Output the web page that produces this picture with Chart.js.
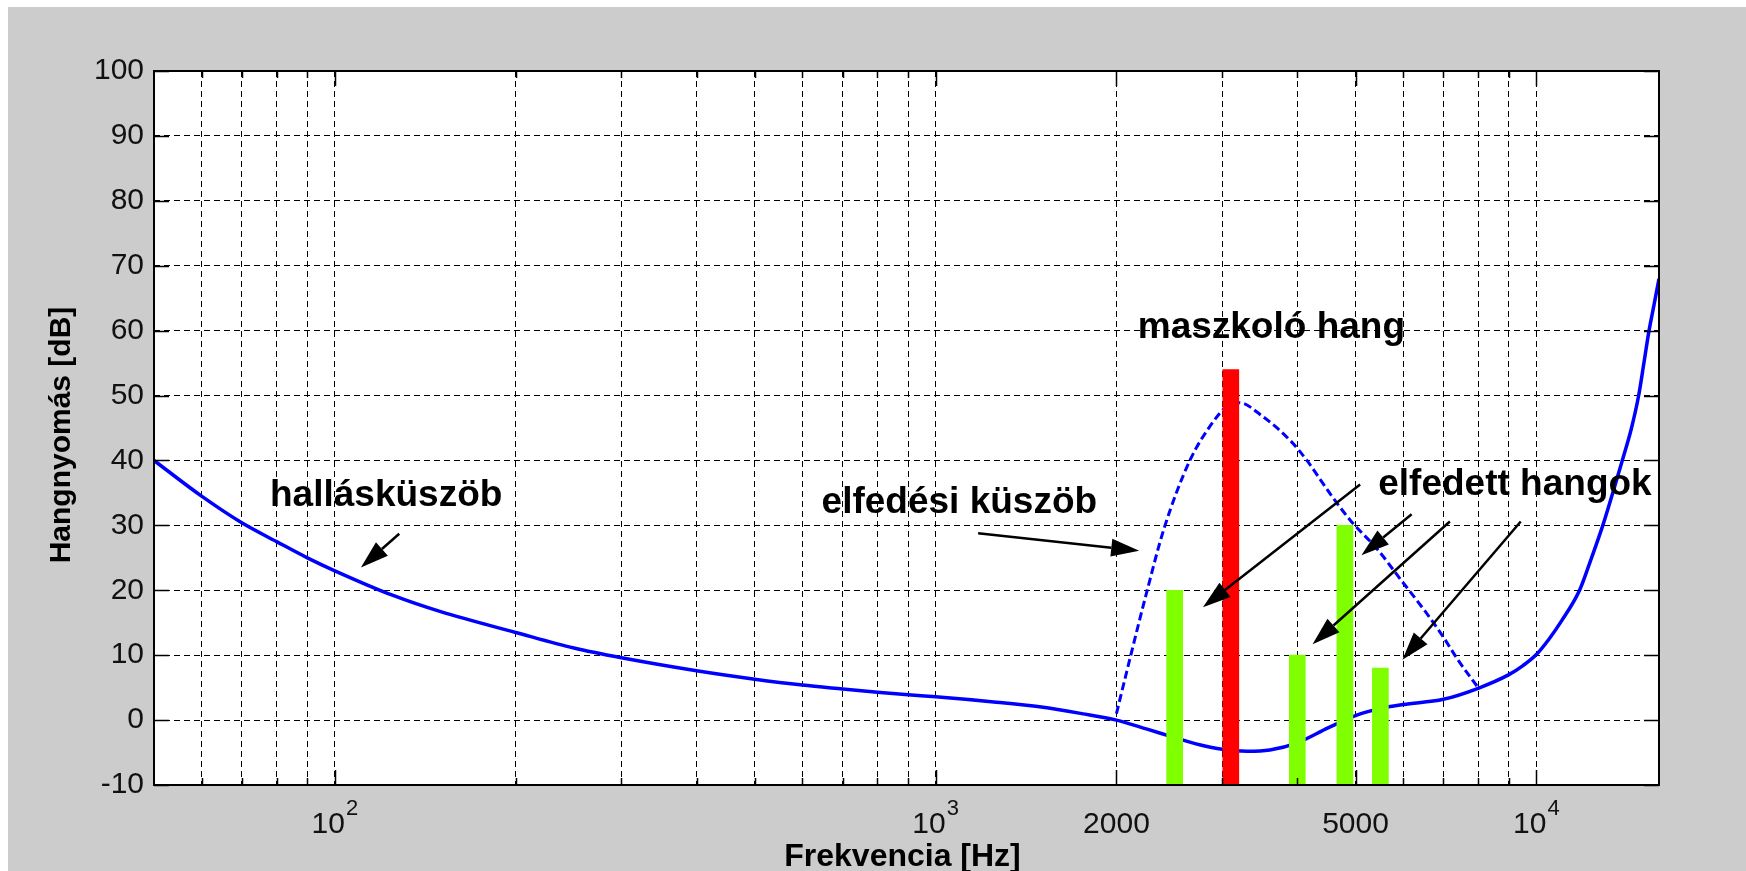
<!DOCTYPE html>
<html>
<head>
<meta charset="utf-8">
<title>Elfedés</title>
<script src="https://cdn.jsdelivr.net/npm/chart.js@4.4.1/dist/chart.umd.min.js"></script>
<style>
  html, body { margin: 0; padding: 0; background: #fff; }
  #doboz { width: 1746px; height: 871px; }
</style>
</head>
<body>
<div id="doboz"><canvas id="grafikon" width="1746" height="871"></canvas></div>
<script>
// hallásküszöb (folytonos kék vonal)
const kuszobFrek = [50, 60, 70, 80, 90, 100, 125, 150, 200, 250, 300, 400, 500, 600, 700, 800, 900, 1000,
    1250, 1500, 1750, 2000, 2250, 2500, 2750, 3000, 3300, 3600, 4000, 4500, 5000, 5500, 6000, 7000,
    8000, 9000, 9500, 10000, 10500, 11000, 11800, 12300, 12900, 13400, 13900, 14400, 14800, 15100, 15400, 15700, 16000];
const kuszobDb = [40.0, 34.5, 30.4, 27.5, 25.0, 23.0, 19.2, 16.7, 13.5, 11.1, 9.6, 7.6, 6.3, 5.4, 4.8, 4.3, 3.9, 3.6,
    2.8, 2.0, 1.0, 0.0, -1.4, -2.7, -3.8, -4.5, -4.8, -4.6, -3.5, -1.2, 0.7, 1.8, 2.4, 3.2,
    4.9, 7.0, 8.4, 10.1, 12.5, 15.2, 20.0, 24.5, 30.0, 35.0, 40.0, 45.0, 50.0, 55.0, 60.0, 64.0, 68.0];

// elfedési küszöb (szaggatott kék vonal)
const elfedesFrek = [2000, 2100, 2250, 2400, 2650, 2900, 3050, 3200, 3500, 3900, 4150, 4550, 4900, 5450, 5950, 6500, 7000, 7400, 8000];
const elfedesDb = [1, 9, 20, 29.5, 40, 46, 48.3, 48.9, 46.8, 43, 40, 34.7, 30.8, 26.2, 21.6, 17, 12.8, 9.3, 5];

// maszkoló hang (piros) és elfedett hangok (zöld)
const maszkoloFrek = [3100];
const maszkoloDb = [54];
const elfedettFrek = [2500, 4000, 4800, 5500];
const elfedettDb = [20, 10, 30, 8];

// tengelyek
const xMin = 50, xMax = 16000;
const yMin = -10, yMax = 100, yLepes = 10;
const racsFrek = [60, 70, 80, 90, 100, 200, 300, 400, 500, 600, 700, 800, 900, 1000,
    2000, 3000, 4000, 5000, 6000, 7000, 8000, 9000, 10000];
const cimkeFrek = [100, 1000, 2000, 5000, 10000];
const cimkeAlap = ['10', '10', '2000', '5000', '10'];
const cimkeKitevo = ['2', '3', '', '', '4'];
const xCim = 'Frekvencia [Hz]';
const yCim = 'Hangnyomás [dB]';

// feliratok és nyilak (frekvencia, dB)
const feliratSzoveg = ['hallásküszöb', 'elfedési küszöb', 'maszkoló hang', 'elfedett hangok'];
const feliratFrek = [78, 646, 2170, 5455];
const feliratDb = [33.0, 31.9, 58.8, 34.7];
const nyilKezdFrek = [128, 1177, 5089, 6200, 7179, 9419];
const nyilKezdDb = [28.7, 28.8, 36.3, 31.7, 30.6, 30.6];
const nyilVegFrek = [110.5, 2182, 2786, 5115, 4241, 5985];
const nyilVegDb = [23.5, 26.1, 17.4, 25.4, 11.7, 9.3];

const betu = '"Liberation Sans", Arial, Helvetica, sans-serif';
Chart.defaults.font.family = betu;

function pontok(frek, db) {
    return frek.map((f, i) => ({ x: f, y: db[i] }));
}

const hatter = {
    id: 'hatter',
    beforeDraw(chart) {
        const { ctx, chartArea: a } = chart;
        ctx.save();
        ctx.fillStyle = '#ffffff';
        ctx.fillRect(0, 0, chart.width, chart.height);
        ctx.fillStyle = '#cccccc';
        ctx.fillRect(8, 7, chart.width - 8, chart.height - 7);
        ctx.fillStyle = '#ffffff';
        ctx.fillRect(a.left, a.top, a.right - a.left, a.bottom - a.top);
        ctx.restore();
    }
};

const keret = {
    id: 'keret',
    afterDatasetsDraw(chart) {
        const { ctx, chartArea: a, scales: { x, y } } = chart;
        ctx.save();
        ctx.strokeStyle = '#000';
        ctx.lineWidth = 1.5;
        ctx.beginPath();
        for (let v = yMin; v <= yMax; v += yLepes) {
            const py = Math.round(y.getPixelForValue(v)) + 0.5;
            ctx.moveTo(a.left, py);
            ctx.lineTo(a.left + 15, py);
            ctx.moveTo(a.right, py);
            ctx.lineTo(a.right - 15, py);
        }
        racsFrek.forEach(f => {
            const px = Math.round(x.getPixelForValue(f)) + 0.5;
            const h = cimkeFrek.includes(f) ? 15 : 7;
            ctx.moveTo(px, a.bottom);
            ctx.lineTo(px, a.bottom - h);
            ctx.moveTo(px, a.top);
            ctx.lineTo(px, a.top + h);
        });
        ctx.stroke();
        ctx.lineWidth = 2;
        ctx.strokeRect(a.left, a.top, a.right - a.left, a.bottom - a.top);

        // x tengely feliratai, hatványkitevővel
        ctx.fillStyle = '#111';
        ctx.textBaseline = 'alphabetic';
        ctx.textAlign = 'left';
        cimkeFrek.forEach((f, i) => {
            const px = x.getPixelForValue(f);
            ctx.font = '30px ' + betu;
            const w1 = ctx.measureText(cimkeAlap[i]).width;
            ctx.font = '22px ' + betu;
            const w2 = cimkeKitevo[i] ? ctx.measureText(cimkeKitevo[i]).width + 1 : 0;
            const kezd = px - (w1 + w2) / 2;
            ctx.font = '30px ' + betu;
            ctx.fillText(cimkeAlap[i], kezd, a.bottom + 48);
            if (cimkeKitevo[i]) {
                ctx.font = '22px ' + betu;
                ctx.fillText(cimkeKitevo[i], kezd + w1 + 1, a.bottom + 30);
            }
        });

        // tengelycímek
        ctx.fillStyle = '#000';
        ctx.textAlign = 'center';
        ctx.textBaseline = 'middle';
        ctx.font = 'bold 32px ' + betu;
        ctx.fillText(xCim, (a.left + a.right) / 2 - 4, 857);
        ctx.translate(62, (a.top + a.bottom) / 2 + 7);
        ctx.rotate(-Math.PI / 2);
        ctx.font = 'bold 30px ' + betu;
        ctx.fillText(yCim, 0, 0);
        ctx.restore();
    }
};

const jelolesek = {
    id: 'jelolesek',
    afterDraw(chart) {
        const { ctx, scales: { x, y } } = chart;
        ctx.save();
        ctx.fillStyle = '#000';
        ctx.strokeStyle = '#000';
        ctx.font = 'bold 37px ' + betu;
        ctx.textAlign = 'left';
        ctx.textBaseline = 'alphabetic';
        feliratSzoveg.forEach((t, i) => {
            ctx.fillText(t, x.getPixelForValue(feliratFrek[i]), y.getPixelForValue(feliratDb[i]));
        });

        ctx.lineWidth = 2.5;
        for (let i = 0; i < nyilKezdFrek.length; i++) {
            const x1 = x.getPixelForValue(nyilKezdFrek[i]);
            const y1 = y.getPixelForValue(nyilKezdDb[i]);
            const x2 = x.getPixelForValue(nyilVegFrek[i]);
            const y2 = y.getPixelForValue(nyilVegDb[i]);
            const szog = Math.atan2(y2 - y1, x2 - x1);
            const hossz = 28, fel = 9;
            const bx = x2 - Math.cos(szog) * hossz;
            const by = y2 - Math.sin(szog) * hossz;
            ctx.beginPath();
            ctx.moveTo(x1, y1);
            ctx.lineTo(bx, by);
            ctx.stroke();
            ctx.beginPath();
            ctx.moveTo(x2, y2);
            ctx.lineTo(bx - Math.sin(szog) * fel, by + Math.cos(szog) * fel);
            ctx.lineTo(bx + Math.sin(szog) * fel, by - Math.cos(szog) * fel);
            ctx.closePath();
            ctx.fill();
        }
        ctx.restore();
    }
};

const ctx = document.getElementById('grafikon').getContext('2d');
const grafikon = new Chart(ctx, {
    type: 'line',
    data: {
        datasets: [
            {
                type: 'bar',
                label: 'maszkoló hang',
                data: pontok(maszkoloFrek, maszkoloDb),
                backgroundColor: '#ff0000',
                barThickness: 16,
                grouped: false,
                base: -10,
                borderWidth: 0,
                order: 1
            },
            {
                type: 'bar',
                label: 'elfedett hangok',
                data: pontok(elfedettFrek, elfedettDb),
                backgroundColor: '#80ff00',
                barThickness: 16,
                grouped: false,
                base: -10,
                borderWidth: 0,
                order: 1
            },
            {
                label: 'hallásküszöb',
                data: pontok(kuszobFrek, kuszobDb),
                borderColor: '#0000ff',
                borderWidth: 3.5,
                pointRadius: 0,
                fill: false,
                cubicInterpolationMode: 'monotone',
                order: 2
            },
            {
                label: 'elfedési küszöb',
                data: pontok(elfedesFrek, elfedesDb),
                borderColor: '#0000ff',
                borderWidth: 3,
                borderDash: [8, 4],
                pointRadius: 0,
                fill: false,
                cubicInterpolationMode: 'monotone',
                order: 2
            }
        ]
    },
    options: {
        responsive: false,
        animation: false,
        devicePixelRatio: 1,
        events: [],
        layout: { padding: { top: 71, right: 87, bottom: 0, left: 0 } },
        plugins: {
            legend: { display: false },
            tooltip: { enabled: false }
        },
        scales: {
            x: {
                type: 'logarithmic',
                min: xMin,
                max: xMax,
                offset: false,
                afterBuildTicks: (scale) => {
                    scale.ticks = racsFrek.map(v => ({ value: v }));
                },
                afterFit: (scale) => { scale.height = 86; },
                ticks: { display: false, autoSkip: false },
                grid: { color: '#000', lineWidth: 1, drawTicks: false, offset: false },
                border: { display: false, dash: [6, 4] }
            },
            y: {
                type: 'linear',
                min: yMin,
                max: yMax,
                afterFit: (scale) => { scale.width = 154; },
                ticks: { stepSize: yLepes, color: '#111', font: { size: 30 }, padding: 10, autoSkip: false },
                grid: { color: '#000', lineWidth: 1, drawTicks: false },
                border: { display: false, dash: [6, 4] }
            }
        }
    },
    plugins: [hatter, keret, jelolesek]
});
</script>
</body>
</html>
